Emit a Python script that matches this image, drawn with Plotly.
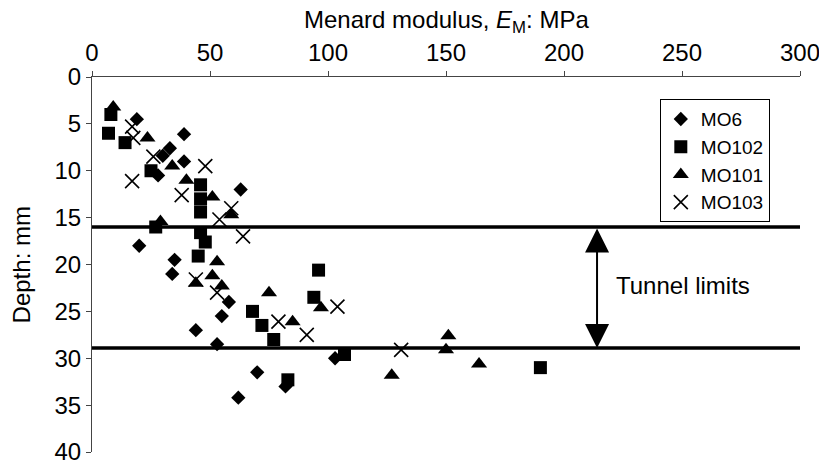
import plotly.graph_objects as go

# Menard modulus (MPa) and depth (m) per borehole
mo6_em = [19, 39, 33, 30, 39, 28, 63, 20, 35, 34, 58, 55, 44, 53, 70, 82, 62, 103]
mo6_depth = [4.5, 6.1, 7.6, 8.4, 9.0, 10.5, 12.0, 18.0, 19.5, 21.0, 24.0, 25.5, 27.0, 28.5, 31.5, 33.0, 34.2, 30.0]

mo102_em = [8, 7, 14, 25, 46, 46, 46, 27, 46, 48, 45, 68, 72, 77, 83, 96, 94, 107, 190]
mo102_depth = [4.0, 6.0, 7.0, 10.0, 11.5, 13.0, 14.4, 16.0, 16.6, 17.6, 19.1, 25.0, 26.5, 28.0, 32.3, 20.6, 23.5, 29.6, 31.0]

mo101_em = [9, 23.5, 34, 40, 51, 29, 59, 53, 51, 44, 55, 75, 85, 97, 151, 150, 127, 164]
mo101_depth = [3.2, 6.5, 9.5, 11.0, 12.8, 15.4, 14.7, 19.7, 21.2, 22.0, 22.3, 23.0, 26.1, 24.6, 27.6, 29.1, 31.8, 30.6]

mo103_em = [17, 17.5, 26, 48, 17, 38, 59, 54, 64, 44, 53, 79, 91, 104, 131]
mo103_depth = [5.3, 6.5, 8.5, 9.5, 11.1, 12.6, 14.0, 15.2, 17.0, 21.6, 23.0, 26.1, 27.5, 24.5, 29.1]

tunnel_limits = [16.0, 28.9]
x_ticks = [0, 50, 100, 150, 200, 250, 300]
y_ticks = [0, 5, 10, 15, 20, 25, 30, 35, 40]

FONT = "Liberation Sans, Arial, sans-serif"

fig = go.Figure()
fig.add_trace(go.Scatter(x=mo6_em, y=mo6_depth, mode="markers", name="MO6",
                         marker=dict(symbol="diamond", size=11, color="black")))
fig.add_trace(go.Scatter(x=mo102_em, y=mo102_depth, mode="markers", name="MO102",
                         marker=dict(symbol="square", size=13, color="black")))
fig.add_trace(go.Scatter(x=mo101_em, y=mo101_depth, mode="markers", name="MO101",
                         marker=dict(symbol="triangle-up", size=14, color="black")))
fig.add_trace(go.Scatter(x=mo103_em, y=mo103_depth, mode="markers", name="MO103",
                         marker=dict(symbol="x-thin-open", size=14, color="black",
                                     line=dict(width=1.6, color="black"))))

for d in tunnel_limits:
    fig.add_shape(type="line", xref="paper", x0=0, x1=1, yref="y", y0=d, y1=d,
                  line=dict(color="black", width=3.5))

fig.add_annotation(x=214, y=tunnel_limits[1], ax=214, ay=tunnel_limits[0],
                   xref="x", yref="y", axref="x", ayref="y", text="",
                   showarrow=True, arrowhead=2, arrowside="end+start",
                   arrowsize=2.4, arrowwidth=2, arrowcolor="black")
fig.add_annotation(x=221, y=22.2, xref="x", yref="y", text="Tunnel limits",
                   showarrow=False, xanchor="left", yanchor="middle",
                   font=dict(family=FONT, size=24, color="black"))

# axis titles
fig.add_annotation(x=0.5, y=1.148, xref="paper", yref="paper",
                   text="Menard modulus, <i>E</i><sub>M</sub>: MPa",
                   showarrow=False, xanchor="center", yanchor="middle",
                   font=dict(family=FONT, size=24, color="black"))
fig.add_annotation(x=-0.099, y=0.5, xref="paper", yref="paper",
                   text="Depth: mm", textangle=-90,
                   showarrow=False, xanchor="center", yanchor="middle",
                   font=dict(family=FONT, size=24, color="black"))

# the page body adds an 8px offset, so the figure origin is shifted by 8px
fig.update_layout(
    width=819, height=462,
    margin=dict(l=84, r=27, t=69, b=18, autoexpand=False),
    paper_bgcolor="white", plot_bgcolor="white",
    font=dict(family=FONT, size=24, color="black"),
    showlegend=True,
    legend=dict(x=0.802, y=0.941, xanchor="left", yanchor="top",
                bgcolor="white", bordercolor="black", borderwidth=1,
                font=dict(family=FONT, size=19, color="black"),
                itemwidth=30, tracegroupgap=0),
    xaxis=dict(side="top", range=[0, 300], tickvals=x_ticks,
               ticks="outside", ticklen=5, tickcolor="#444",
               showline=True, linecolor="#444", linewidth=1, mirror=False,
               showgrid=False, zeroline=False, automargin=False,
               ticklabeloverflow="allow",
               tickfont=dict(family=FONT, size=24)),
    yaxis=dict(range=[40, 0], tickvals=y_ticks,
               ticks="outside", ticklen=5, tickcolor="#444",
               showline=True, linecolor="#444", linewidth=1,
               showgrid=False, zeroline=False, automargin=False,
               ticklabeloverflow="allow",
               tickfont=dict(family=FONT, size=24)),
)

fig.write_html("out.html")
